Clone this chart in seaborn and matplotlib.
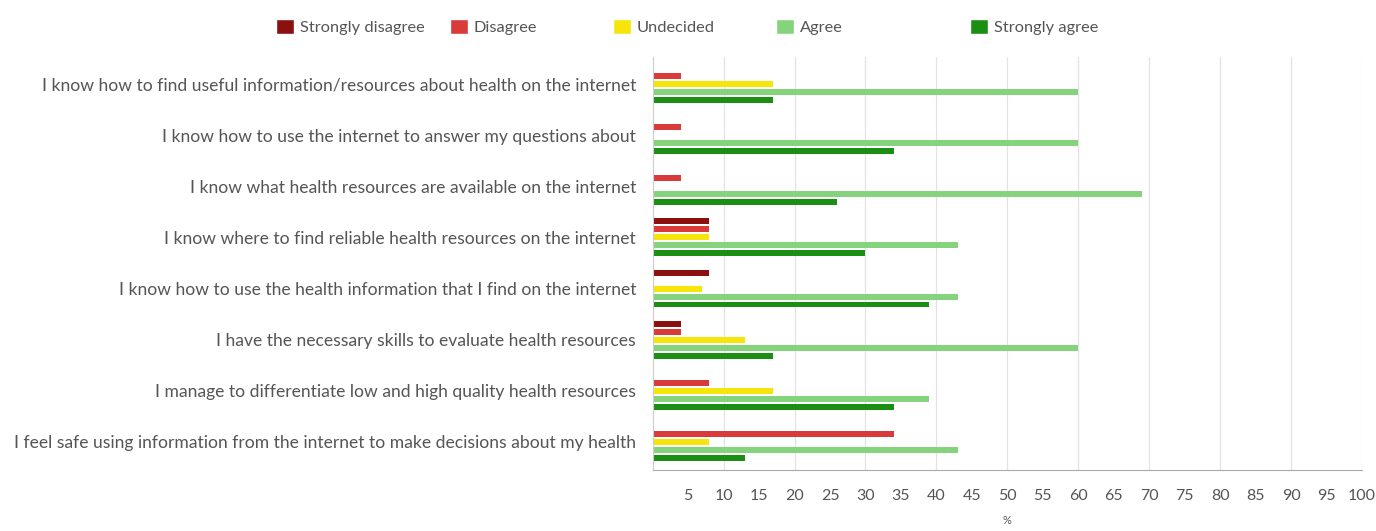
import numpy as np
import pandas as pd
import matplotlib
matplotlib.use('Agg')
import matplotlib.pyplot as plt
import seaborn as sns
from matplotlib.patches import Patch

# Data (percent of respondents)
QUESTIONS = [
    'I know how to find useful information/resources about health on the internet',
    'I know how to use the internet to answer my questions about',
    'I know what health resources are available on the internet',
    'I know where to find reliable health resources on the internet',
    'I know how to use the health information that I find on the internet',
    'I have the necessary skills to evaluate health resources',
    'I manage to differentiate low and high quality health resources',
    'I feel safe using information from the internet to make decisions about my health',
]
RESPONSES = ['Strongly disagree', 'Disagree', 'Undecided', 'Agree', 'Strongly agree']
STRONGLY_DISAGREE = [0, 0, 0, 8, 8, 4, 0, 0]
DISAGREE = [4, 4, 4, 8, 0, 4, 8, 34]
UNDECIDED = [17, 0, 0, 8, 7, 13, 17, 8]
AGREE = [60, 60, 69, 43, 43, 60, 39, 43]
STRONGLY_AGREE = [17, 34, 26, 30, 39, 17, 34, 13]
X_TICKS = list(range(5, 101, 5))

COLORS = ['#8b1111', '#d93a3a', '#f5e50a', '#86d37e', '#1b8f13']
TEXT_COLOR = '#555555'

series = [STRONGLY_DISAGREE, DISAGREE, UNDECIDED, AGREE, STRONGLY_AGREE]
rows = []
for resp, vals in zip(RESPONSES, series):
    for q, v in zip(QUESTIONS, vals):
        rows.append({'question': q, 'response': resp, 'value': v})
df = pd.DataFrame(rows)

sns.set_style('white')
plt.rcParams['font.family'] = ['Lato', 'DejaVu Sans']

fig = plt.figure(figsize=(13.76, 5.31), dpi=100)
ax = fig.add_axes([652.7 / 1376, 1 - 470 / 531, (1362 - 652.7) / 1376, (470 - 57) / 531])

sns.barplot(data=df, y='question', x='value', hue='response', order=QUESTIONS,
            hue_order=RESPONSES, palette=COLORS, saturation=1, orient='h',
            width=0.78, gap=0.25, legend=False, ax=ax, linewidth=0)

ax.set_xlim(0, 100)
ax.set_ylim(7.55, -0.53)
ax.set_xticks(X_TICKS)
ax.set_xticklabels([str(t) for t in X_TICKS])
ax.grid(False)
for x in range(10, 101, 10):
    ax.axvline(x, color='#e3e3e3', lw=0.9, zorder=0)
ax.tick_params(axis='x', which='major', length=4, color='#bbbbbb', pad=10,
               labelsize=11.5, labelcolor=TEXT_COLOR)
ax.tick_params(axis='y', length=0, pad=12, labelsize=12.6, labelcolor=TEXT_COLOR)
ax.set_ylabel('')
ax.set_xlabel('%', fontsize=8, color=TEXT_COLOR, va='center')
ax.xaxis.set_label_coords(0.5, -50 / 413)
for side in ['top', 'right']:
    ax.spines[side].set_visible(False)
ax.spines['bottom'].set_color('#aaaaaa')
ax.spines['left'].set_color('#cccccc')

# Legend entries placed individually across the top
legend_x = [276, 450, 613, 776, 970]
for resp, color, lx in zip(RESPONSES, COLORS, legend_x):
    leg = fig.legend(handles=[Patch(facecolor=color, label=resp)], loc='center left',
                     bbox_to_anchor=(lx / 1376, 1 - 27 / 531), frameon=False,
                     borderpad=0, borderaxespad=0, handlelength=1.1, handleheight=1.0,
                     handletextpad=0.35, fontsize=11.8)
    for t in leg.get_texts():
        t.set_color(TEXT_COLOR)

fig.savefig('out.png', dpi=100, facecolor='white')
